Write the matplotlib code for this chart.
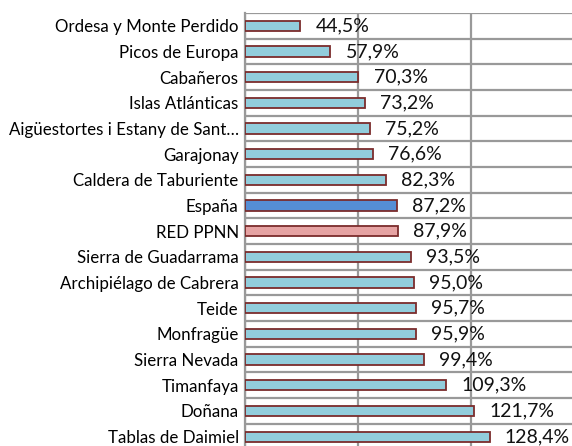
import matplotlib
matplotlib.use("Agg")
import matplotlib.pyplot as plt

plt.rcParams['font.family'] = ['Lato', 'DejaVu Sans']

parques = ["Ordesa y Monte Perdido", "Picos de Europa", "Cabañeros",
           "Islas Atlánticas", "Aigüestortes i Estany de Sant…", "Garajonay",
           "Caldera de Taburiente", "España", "RED PPNN", "Sierra de Guadarrama",
           "Archipiélago de Cabrera", "Teide", "Monfragüe", "Sierra Nevada",
           "Timanfaya", "Doñana", "Tablas de Daimiel"]
valores = [44.5, 57.9, 70.3, 73.2, 75.2, 76.6, 82.3, 87.2, 87.9, 93.5,
           95.0, 95.7, 95.9, 99.4, 109.3, 121.7, 128.4]

colores = []
for p in parques:
    if p == "España":
        colores.append("#558ED5")
    elif p == "RED PPNN":
        colores.append("#E6A3A3")
    else:
        colores.append("#92CDDC")

fig = plt.figure(figsize=(5.72, 4.46), dpi=100)
ax = fig.add_axes([0.4283, -0.0079, 0.5916, 0.979])

pos = list(range(len(parques)))
ax.barh(pos, [v - 20 for v in valores], left=20, height=0.4, color=colores,
        edgecolor="#7B2C2C", linewidth=1.3, zorder=3)

for y, v in zip(pos, valores):
    ax.annotate(f"{v:.1f}%".replace(".", ","), (v, y), xytext=(11, 0),
                textcoords="offset points", va="center", ha="left",
                fontsize=14, color="#111111", zorder=4)

ax.set_xlim(20, 170)
ax.set_ylim(len(parques) - 0.5, -0.5)
ax.set_xticks([20, 70, 120, 170])
ax.set_xticklabels([])
ax.set_yticks(pos)
ax.set_yticklabels(parques, fontsize=12.2)
ax.tick_params(axis="y", length=0, pad=4.5)
ax.tick_params(axis="x", length=0)

# lineas de separacion entre categorias
ax.set_yticks([p + 0.5 for p in range(-1, len(parques))], minor=True)
ax.tick_params(axis="y", which="minor", length=0)
ax.grid(True, axis="y", which="minor", color="#999999", linewidth=1.6, zorder=1)
ax.grid(True, axis="x", which="major", color="#999999", linewidth=1.6, zorder=1)

for s in ["top", "right", "bottom"]:
    ax.spines[s].set_visible(False)
ax.spines["left"].set_color("#999999")
ax.spines["left"].set_linewidth(1.6)

fig.savefig("out.png", dpi=100)
